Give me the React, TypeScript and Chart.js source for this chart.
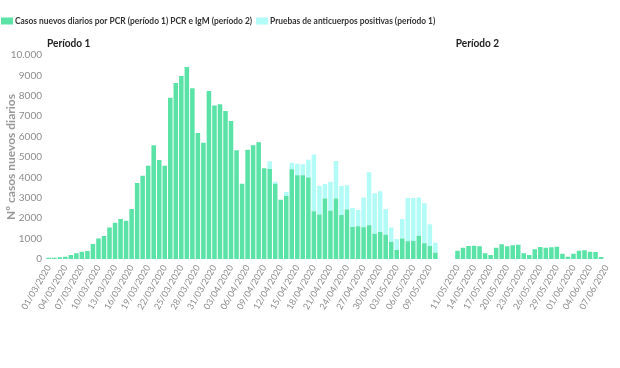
import React, { useEffect, useRef } from 'react';
import { Chart, registerables } from 'chart.js';

Chart.register(...registerables);

const period1Dates = [
  '01/03/2020','02/03/2020','03/03/2020','04/03/2020','05/03/2020','06/03/2020','07/03/2020','08/03/2020','09/03/2020','10/03/2020',
  '11/03/2020','12/03/2020','13/03/2020','14/03/2020','15/03/2020','16/03/2020','17/03/2020','18/03/2020','19/03/2020','20/03/2020',
  '21/03/2020','22/03/2020','23/03/2020','24/03/2020','25/03/2020','26/03/2020','27/03/2020','28/03/2020','29/03/2020','30/03/2020',
  '31/03/2020','01/04/2020','02/04/2020','03/04/2020','04/04/2020','05/04/2020','06/04/2020','07/04/2020','08/04/2020','09/04/2020',
  '10/04/2020','11/04/2020','12/04/2020','13/04/2020','14/04/2020','15/04/2020','16/04/2020','17/04/2020','18/04/2020','19/04/2020',
  '20/04/2020','21/04/2020','22/04/2020','23/04/2020','24/04/2020','25/04/2020','26/04/2020','27/04/2020','28/04/2020','29/04/2020',
  '30/04/2020','01/05/2020','02/05/2020','03/05/2020','04/05/2020','05/05/2020','06/05/2020','07/05/2020','08/05/2020','09/05/2020',
  '10/05/2020'
];

const period2Dates = [
  '11/05/2020','12/05/2020','13/05/2020','14/05/2020','15/05/2020','16/05/2020','17/05/2020','18/05/2020','19/05/2020','20/05/2020',
  '21/05/2020','22/05/2020','23/05/2020','24/05/2020','25/05/2020','26/05/2020','27/05/2020','28/05/2020','29/05/2020','30/05/2020',
  '31/05/2020','01/06/2020','02/06/2020','03/06/2020','04/06/2020','05/06/2020','06/06/2020','07/06/2020'
];

// Casos nuevos diarios por PCR (período 1)
const period1Pcr = [
  65, 65, 80, 115, 195, 280, 360, 390, 735, 1010,
  1130, 1550, 1780, 1960, 1880, 2450, 3720, 4080, 4570, 5580,
  4850, 4570, 7900, 8630, 8970, 9410, 8370, 6180, 5700, 8230,
  7530, 7580, 7250, 6765, 5330, 3690, 5360, 5580, 5720, 4445,
  4410, 3690, 2910, 3090, 4400, 4100, 4100, 4000, 2340, 2180,
  2960, 2370, 2960, 2160, 2430, 1570, 1600, 1560, 1650, 1240,
  1320, 1190, 850, 440, 1010, 870, 880, 1140, 770, 640,
  310
];

// Pruebas de anticuerpos positivas (período 1)
const period1Antibody = [
  0, 0, 0, 0, 0, 0, 0, 0, 0, 0,
  0, 0, 0, 0, 0, 0, 0, 0, 0, 0,
  0, 0, 0, 0, 0, 0, 0, 0, 0, 0,
  0, 0, 0, 0, 0, 0, 0, 0, 0, 0,
  380, 100, 0, 195, 320, 570, 550, 870, 2780, 1400,
  720, 1420, 1840, 1420, 1180, 930, 800, 1460, 2600, 1980,
  2000, 1260, 690, 540, 950, 2120, 2110, 1880, 1960, 1060,
  490
];

// PCR e IgM (período 2)
const period2PcrIgm = [
  410, 555, 640, 655, 620, 280, 195, 555, 720, 620,
  670, 700, 280, 195, 475, 590, 555, 570, 605, 260,
  115, 260, 410, 425, 360, 345, 100, 0
];

const gapSlots = 3;
const tickStep = 3;

const GREEN = '#5ae2a7';
const CYAN = '#b3fbf6';
const FONT = 'Lato';

export default function App() {
  const ref = useRef<HTMLCanvasElement>(null);

  useEffect(() => {
    if (!ref.current) return;
    const gapLabels = Array.from({ length: gapSlots }, (_, i) => `gap${i}`);
    const labels = [...period1Dates, ...gapLabels, ...period2Dates];
    const tickLabels = new Set([
      ...period1Dates.filter((_, i) => i % tickStep === 0),
      ...period2Dates.filter((_, i) => i % tickStep === 0),
    ]);
    const nullGap = Array(gapSlots).fill(null);
    const greenData = [...period1Pcr, ...nullGap, ...period2PcrIgm];
    const cyanData = [...period1Antibody, ...nullGap, ...Array(period2Dates.length).fill(null)];

    const overlayPlugin = {
      id: 'overlay',
      afterDraw(chart: any) {
        const ctx = chart.ctx as CanvasRenderingContext2D;
        ctx.save();
        // legend (condensed text)
        ctx.font = `bold 10px ${FONT}`;
        ctx.textBaseline = 'middle';
        ctx.textAlign = 'left';
        const squeeze = 0.84;
        let x = 1;
        const y = 21;
        chart.data.datasets.forEach((ds: any) => {
          ctx.fillStyle = ds.backgroundColor;
          ctx.fillRect(x, y - 3.5, 12, 7);
          x += 14;
          ctx.fillStyle = '#333';
          ctx.save();
          ctx.translate(x, y);
          ctx.scale(squeeze, 1);
          ctx.fillText(ds.label, 0, 0);
          ctx.restore();
          x += ctx.measureText(ds.label).width * squeeze + 4;
        });
        // period titles
        const xs = chart.scales.x;
        const slot = (xs.right - xs.left) / labels.length;
        ctx.font = `bold 11px ${FONT}`;
        ctx.fillStyle = '#222';
        const drawTitle = (t: string, idx: number) => {
          ctx.save();
          ctx.translate(xs.getPixelForValue(idx) - slot / 2 + 1, 43);
          ctx.scale(0.92, 1);
          ctx.fillText(t, 0, 0);
          ctx.restore();
        };
        drawTitle('Período 1', 0);
        drawTitle('Período 2', period1Dates.length + gapSlots);
        ctx.restore();
      },
    };

    const chart = new Chart(ref.current, {
      type: 'bar',
      data: {
        labels,
        datasets: [
          {
            label: 'Casos nuevos diarios por PCR (período 1) PCR e IgM (período 2)',
            data: greenData,
            backgroundColor: GREEN,
            barPercentage: 0.82,
            categoryPercentage: 1,
          },
          {
            label: 'Pruebas de anticuerpos positivas (período 1)',
            data: cyanData,
            backgroundColor: CYAN,
            barPercentage: 0.82,
            categoryPercentage: 1,
          },
        ],
      },
      options: {
        responsive: false,
        animation: false,
        layout: { padding: { top: 55, left: 0, right: 8, bottom: 0 } },
        plugins: {
          legend: { display: false },
          tooltip: { enabled: false },
        },
        scales: {
          x: {
            stacked: true,
            offset: true,
            grid: { display: false, drawTicks: false },
            border: { display: false },
            ticks: {
              autoSkip: false,
              minRotation: 60,
              maxRotation: 60,
              padding: 4,
              color: '#8c8c8c',
              font: { family: FONT, size: 9 },
              callback: (_v: any, i: number) => (tickLabels.has(labels[i]) ? labels[i] : ''),
            },
            afterFit: (s: any) => { s.height = 109; },
          },
          y: {
            stacked: true,
            min: 0,
            max: 10000,
            grid: { display: false, drawTicks: false },
            border: { display: false },
            ticks: {
              stepSize: 1000,
              padding: 4,
              color: '#8c8c8c',
              font: { family: FONT, size: 10 },
              callback: (v: any) => (v === 10000 ? '10.000' : String(v)),
            },
            title: {
              display: true,
              text: 'Nº casos nuevos diarios',
              color: '#999',
              font: { family: FONT, size: 12, weight: 'bold' },
              padding: { top: 4, bottom: 0 },
            },
            afterFit: (s: any) => { s.width = 46; },
          },
        },
      },
      plugins: [overlayPlugin],
    });
    return () => chart.destroy();
  }, []);

  return (
    <div style={{ position: 'absolute', left: 0, top: 0, width: 620, height: 368, background: '#fff' }}>
      <canvas ref={ref} width={620} height={368} style={{ display: 'block' }} />
    </div>
  );
}
